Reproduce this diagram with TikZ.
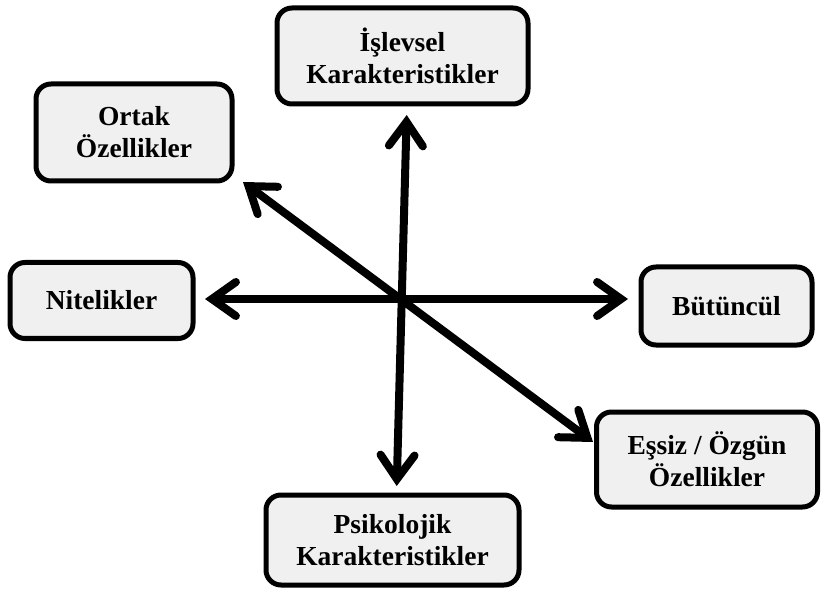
\documentclass[tikz,border=0pt]{standalone}
\usepackage{fontspec}
\setmainfont{Liberation Serif}
\usetikzlibrary{arrows.meta}
\definecolor{boxfill}{HTML}{F0F0F0}
\begin{document}
\begin{tikzpicture}[x=1pt,y=-1pt,
  box/.style={draw=black, line width=5pt, fill=boxfill, rounded corners=15pt,
    minimum width=#1, inner sep=0pt, align=center,
    font=\fontsize{27.5}{32}\selectfont\bfseries},
  box/.default=100pt,
  chev/.tip={Straight Barb[length=24pt,width=34pt,line cap=round,line join=miter]},
  dblarrow/.style={line width=8pt, chev-chev}]
\useasboundingbox (0,0) rectangle (824,593);
\node[box=251pt, minimum height=96pt] (isl) at (402.5,56) {İşlevsel\\Karakteristikler};
\node[box=196pt, minimum height=97pt] (ort) at (134,132.5) {Ortak\\Özellikler};
\node[box=183pt, minimum height=76pt] (nit) at (101.5,300.5) {Nitelikler};
\node[box=171pt, minimum height=78pt] (but) at (726.5,306) {Bütüncül};
\node[box=221pt, minimum height=95pt] (ess) at (707,459.5) {Eşsiz / Özgün\\Özellikler};
\node[box=253pt, minimum height=90pt] (psi) at (392.5,540) {Psikolojik\\Karakteristikler};
\coordinate (vt) at (406.7,115);
\coordinate (vb) at (396.7,486);
\coordinate (hl) at (205,299);
\coordinate (hr) at (628,299);
\coordinate (dl) at (243,182);
\coordinate (dr) at (593,442);
\draw[dblarrow] (vb) -- (vt);
\draw[dblarrow] (hl) -- (hr);
\draw[dblarrow] (dl) -- (dr);
\end{tikzpicture}
\end{document}
